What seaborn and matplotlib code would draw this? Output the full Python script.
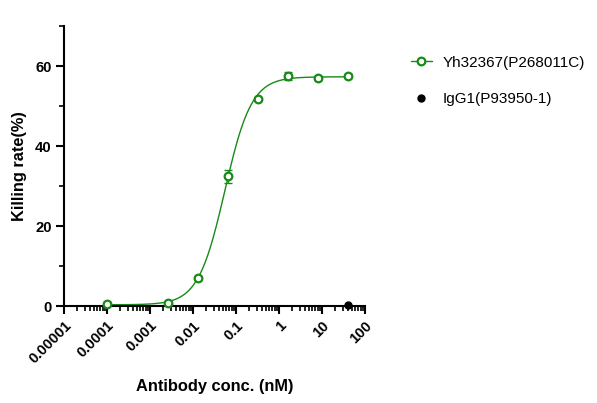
import numpy as np
import pandas as pd
import matplotlib
matplotlib.use("Agg")
import matplotlib.pyplot as plt
import matplotlib.ticker as mticker
import seaborn as sns

# data
conc = [0.0001024, 0.00256, 0.0128, 0.064, 0.32, 1.6, 8.0, 40.0]
killing = [0.6, 0.8, 7.0, 32.4, 51.8, 57.4, 57.0, 57.5]
killing_err = [0.3, 0.3, 0.4, 1.6, 0.5, 1.0, 0.4, 0.4]
igg_conc = [40.0]
igg_killing = [0.25]

# 4PL fit parameters (bottom, top, EC50, hill)
fit_bottom, fit_top, fit_ec50, fit_hill = 0.3, 57.3, 0.055, 1.4

green = "#178a17"
sns.set_style("ticks", {"axes.edgecolor": "black", "text.color": "black",
                        "xtick.color": "black", "ytick.color": "black",
                        "axes.labelcolor": "black"})
plt.rcParams['font.family'] = ['Liberation Sans', 'DejaVu Sans']

fig = plt.figure(figsize=(5.97, 4.03), dpi=100)
ax = fig.add_axes([64/597, 1 - 306/403, (365-64)/597, (306-26)/403])

xfit = np.logspace(np.log10(conc[0]), np.log10(conc[-1]), 300)
yfit = fit_bottom + (fit_top - fit_bottom) / (1 + (fit_ec50 / xfit) ** fit_hill)
sns.lineplot(x=xfit, y=yfit, ax=ax, color=green, lw=1.0)

ax.errorbar(conc, killing, yerr=killing_err, fmt='none', ecolor=green,
            elinewidth=1.0, capsize=3, capthick=1.0, clip_on=False, zorder=3)
ax.plot(conc, killing, 'o', mfc='white', mec=green, mew=1.6, ms=5.5,
        clip_on=False, zorder=4)
ax.plot(igg_conc, igg_killing, 'o', color='black', ms=5, clip_on=False, zorder=5)

ax.set_xscale('log')
ax.set_xlim(1e-5, 100)
ax.set_ylim(0, 70)
ax.xaxis.set_minor_locator(mticker.LogLocator(base=10, subs=np.arange(2, 10), numticks=20))
ax.xaxis.set_minor_formatter(mticker.NullFormatter())
xt = [1e-5, 1e-4, 1e-3, 1e-2, 1e-1, 1, 10, 100]
ax.set_xticks(xt)
ax.set_xticklabels(['0.00001', '0.0001', '0.001', '0.01', '0.1', '1', '10', '100'],
                   rotation=45, ha='right', rotation_mode='anchor')
ax.set_yticks([0, 20, 40, 60])
ax.set_yticks([10, 30, 50, 70], minor=True)

for s in ['top', 'right']:
    ax.spines[s].set_visible(False)
for s in ['left', 'bottom']:
    ax.spines[s].set_linewidth(1.5)
ax.tick_params(which='major', length=6, width=1.5, labelsize=10.7, pad=3, colors='black')
ax.tick_params(which='minor', length=3.5, width=1.2, colors='black')
for lab in ax.get_xticklabels() + ax.get_yticklabels():
    lab.set_fontweight('bold')

ax.set_xlabel('Antibody conc. (nM)', fontsize=11.8, fontweight='bold', labelpad=9)
ax.set_ylabel('Killing rate(%)', fontsize=11.8, fontweight='bold', labelpad=6)

h1, = ax.plot([], [], '-o', color=green, mfc='white', mec=green, mew=1.6, ms=5.5, lw=1.0)
h2, = ax.plot([], [], 'o', color='black', ms=5, ls='none')
fig.legend([h1, h2], ['Yh32367(P268011C)', 'IgG1(P93950-1)'],
           loc='upper left', bbox_to_anchor=(397/597, 1 - 42/403), frameon=False,
           fontsize=11, handlelength=1.4, labelspacing=1.45, handletextpad=0.7)

fig.savefig('out.png', dpi=100)
